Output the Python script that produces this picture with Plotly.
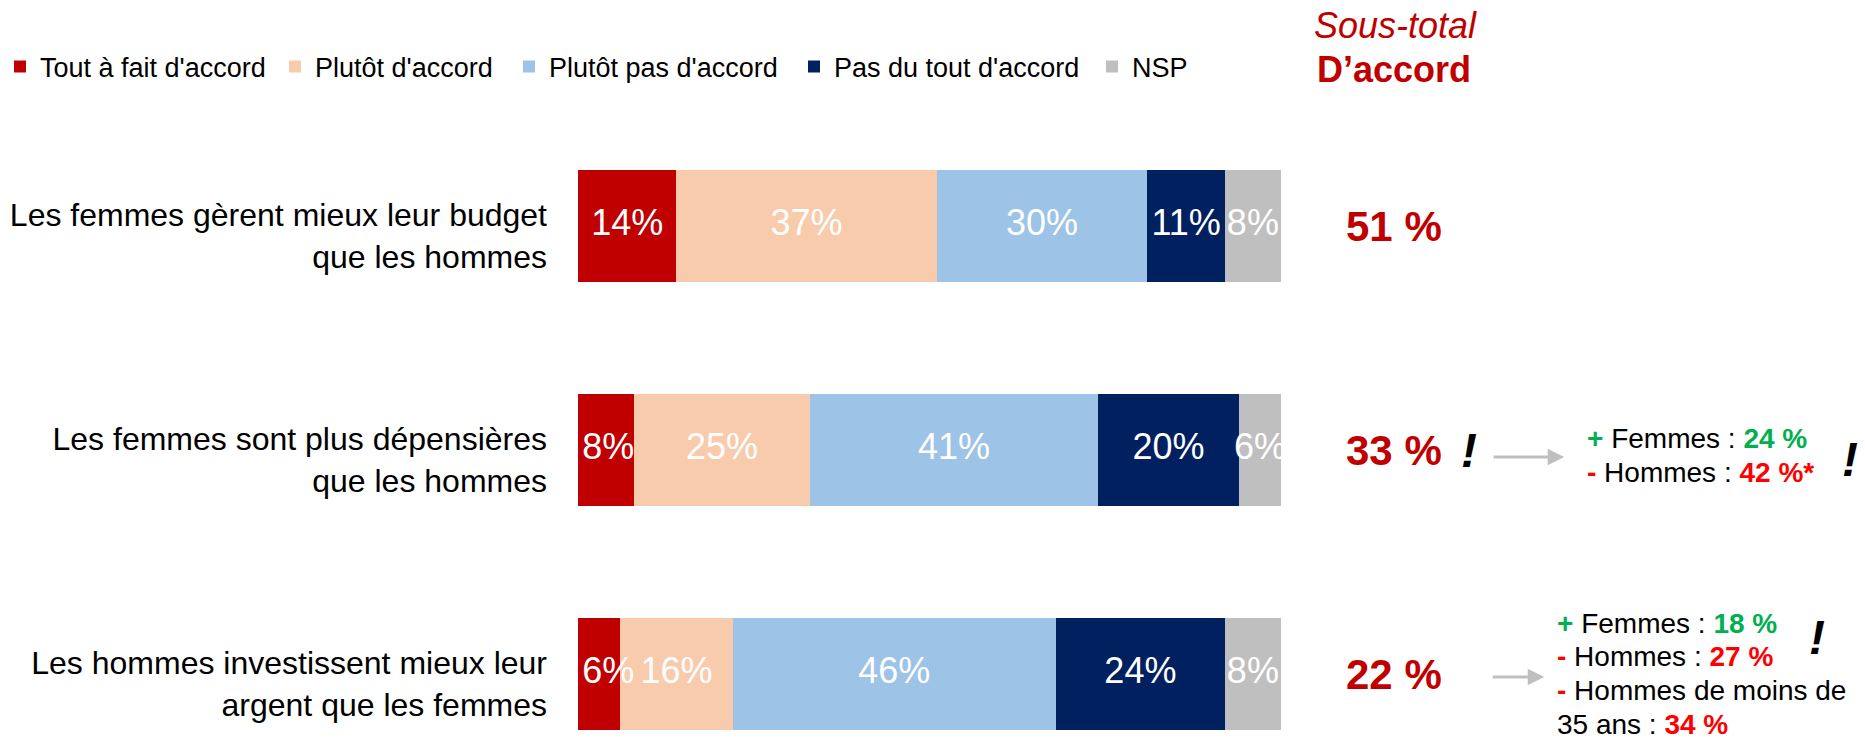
import plotly.graph_objects as go

# ---------------- data ----------------
categories = [
    "Les femmes gèrent mieux leur budget<br>que les hommes",
    "Les femmes sont plus dépensières<br>que les hommes",
    "Les hommes investissent mieux leur<br>argent que les femmes",
]
series_names = ["Tout à fait d'accord", "Plutôt d'accord", "Plutôt pas d'accord",
                "Pas du tout d'accord", "NSP"]
tout_a_fait = [14, 8, 6]
plutot = [37, 25, 16]
plutot_pas = [30, 41, 46]
pas_du_tout = [11, 20, 24]
nsp = [8, 6, 8]
series_values = [tout_a_fait, plutot, plutot_pas, pas_du_tout, nsp]
colors = ["#C00000", "#F8CBAD", "#9DC3E6", "#002060", "#BFBFBF"]

subtotal_header = ["Sous-total", "D’accord"]
# detail notes (sign, label, value) per row ; sign None = continuation line
notes_row2 = [("+", "Femmes : ", "24 %"), ("-", "Hommes : ", "42 %*")]
notes_row3 = [("+", "Femmes : ", "18 %"), ("-", "Hommes : ", "27 %"),
              ("-", "Hommes de moins de", ""), (None, "35 ans : ", "34 %")]

FONT = "Liberation Sans, Arial, sans-serif"
W, H = 1865, 743
PX0, PX1 = 576, 1281      # plot area x (pixels)
PT, PB = 114, 733         # plot area y (pixels)
LABEL_SIZE = 36

def px(x):
    return (x - PX0) / (PX1 - PX0)

def py(y):
    return 1 - (y - PT) / (PB - PT)

fig = go.Figure()
legend_x = [13, 296, 530, 815, 1113]
for i, (name, vals, col) in enumerate(zip(series_names, series_values, colors)):
    lg = "legend" if i == 0 else f"legend{i+1}"
    fig.add_trace(go.Bar(
        y=categories, x=vals, name=name, orientation="h",
        marker=dict(color=col, line=dict(width=0)),
        textposition="none", hoverinfo="x+name",
        legend=lg,
    ))

# value labels on top of all segments (centre of each stacked segment,
# kept inside the bar's left end when the first segment is too narrow)
units_per_px = 100 / (PX1 - PX0)
lab_x, lab_y, lab_t = [], [], []
for r, cat in enumerate(categories):
    start = 0
    for vals in series_values:
        v = vals[r]
        txt = "%d%%" % v
        half_w = (0.556 * (len(txt) - 1) + 0.889) * LABEL_SIZE / 2 * units_per_px
        centre = start + v / 2
        if start == 0:
            centre = max(centre, half_w + 0.6)
        lab_x.append(centre)
        lab_y.append(cat)
        lab_t.append(txt)
        start += v
fig.add_trace(go.Scatter(
    x=lab_x, y=lab_y, text=lab_t, mode="text", textposition="middle center",
    textfont=dict(color="white", size=LABEL_SIZE, family=FONT),
    showlegend=False, hoverinfo="skip", cliponaxis=False,
))

legend_common = dict(orientation="h", xref="container", yref="container",
                     xanchor="left", yanchor="middle",
                     font=dict(size=27, color="black", family=FONT),
                     bgcolor="rgba(0,0,0,0)", itemwidth=30)
layout_legends = {}
for i, lx in enumerate(legend_x):
    key = "legend" if i == 0 else f"legend{i+1}"
    layout_legends[key] = dict(legend_common, x=max(lx - 21, 0) / W, y=1 - 67 / H)

annotations = []
def ann(text, x, y, size, color="black", xanchor="center", yref="paper"):
    annotations.append(dict(text=text, x=px(x), y=(py(y) if yref == "paper" else y),
                            xref="paper", yref=yref, showarrow=False,
                            xanchor=xanchor, yanchor="middle", align="left",
                            font=dict(size=size, color=color, family=FONT)))

# header
ann("<i>%s</i>" % subtotal_header[0], 1396, 26, 36, "#C00000")
ann("<b>%s</b>" % subtotal_header[1], 1394, 69, 36, "#C00000")
# subtotals computed from data
for cat, a, b in zip(categories, tout_a_fait, plutot):
    ann("<b>%d %%</b>" % (a + b), 1394, cat, 42, "#C00000", yref="y")
# exclamation marks
for ex, ey in [(1470, 450), (1852, 459), (1819, 637)]:
    ann("<b><i>!</i></b>", ex, ey, 48, "black")
# arrows
for tip, tail, ay in [(1565, 1493, 457), (1545, 1492, 677)]:
    annotations.append(dict(text="", x=px(tip), y=py(ay), xref="paper", yref="paper",
                            showarrow=True, ax=tail - tip, ay=0, arrowhead=2,
                            arrowwidth=3, arrowsize=1.1, arrowcolor="#BFBFBF"))

def note_line(sign, lab, val):
    if sign is None:
        return "%s<b><span style='color:#FF0000'>%s</span></b>" % (lab, val)
    col = "#00B050" if sign == "+" else "#FF0000"
    return ("<b><span style='color:%s'>%s</span></b> %s<b><span style='color:%s'>%s</span></b>"
            % (col, sign, lab, col, val))

for item, ly in zip(notes_row2, [438, 472]):
    ann(note_line(*item), 1586, ly, 28, xanchor="left")
for item, ly in zip(notes_row3, [623, 656, 690, 724]):
    ann(note_line(*item), 1556, ly, 28, xanchor="left")

fig.update_layout(
    width=W, height=H, barmode="stack", bargap=0.5,
    margin=dict(l=PX0, r=W - PX1, t=PT, b=H - PB, pad=0),
    paper_bgcolor="white", plot_bgcolor="white",
    font=dict(family=FONT, color="black"),
    showlegend=True,
    xaxis=dict(range=[0, 100], visible=False, fixedrange=True),
    yaxis=dict(range=[2.263, -0.5], showgrid=False, zeroline=False, showline=False,
               ticks="", ticklabelstandoff=30, ticklabelshift=-10,
               tickfont=dict(size=32, color="black", family=FONT)),
    annotations=annotations,
    **layout_legends,
)

fig.write_html("out.html", config={"displayModeBar": False},
               post_script="document.body.style.margin='0';document.body.style.padding='0';")
